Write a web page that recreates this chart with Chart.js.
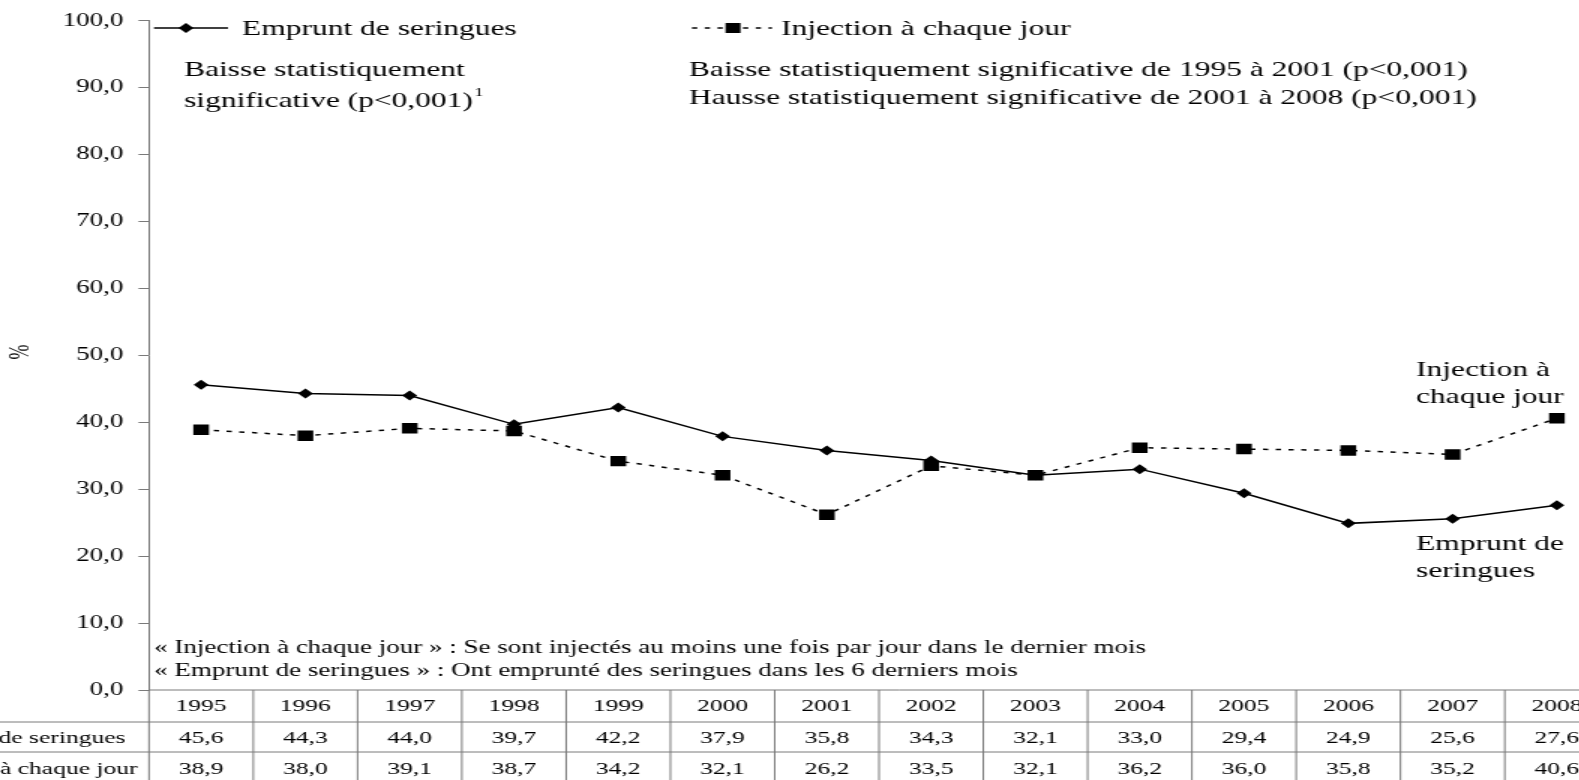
<!DOCTYPE html>
<html>
<head>
<meta charset="utf-8">
<script src="https://cdn.jsdelivr.net/npm/chart.js@4"></script>
<style>
  html, body { margin: 0; padding: 0; background: #fff; overflow: hidden; width: 1579px; height: 780px; }
  #wrap { position: absolute; left: -240px; top: 0; transform: scaleX(1.5); transform-origin: 0 0; }
</style>
</head>
<body>
<div id="wrap"><canvas id="chart" width="1260" height="800"></canvas></div>
<script>
const years = ['1995', '1996', '1997', '1998', '1999', '2000', '2001', '2002', '2003', '2004', '2005', '2006', '2007', '2008']
const emprunt = [45.6, 44.3, 44.0, 39.7, 42.2, 37.9, 35.8, 34.3, 32.1, 33.0, 29.4, 24.9, 25.6, 27.6]
const injection = [38.9, 38.0, 39.1, 38.7, 34.2, 32.1, 26.2, 33.5, 32.1, 36.2, 36.0, 35.8, 35.2, 40.6]
const seriesNames = ['Emprunt de seringues', 'Injection à chaque jour']

// page coords -> canvas coords (canvas is shifted left and stretched 1.5x)
const S = 1.5, SHIFT = 240
const px = x => (x + SHIFT) / S
const serif = '"Liberation Serif", "Times New Roman", serif'
const fmt = v => v.toFixed(1).replace('.', ',')

const tablePlugin = {
    id: 'tableAndNotes',
    afterDraw(chart) {
        const ctx = chart.ctx
        const xs = chart.scales.x
        const area = chart.chartArea
        const step = xs.getPixelForValue(1) - xs.getPixelForValue(0)
        const rows = [690, 722, 752, 782]

        ctx.save()
        ctx.strokeStyle = '#7a7a7a'
        ctx.lineWidth = 1
        ctx.beginPath()
        rows.forEach((r, i) => {
            ctx.moveTo(i === 0 ? area.left : 0, r)
            ctx.lineTo(chart.width, r)
        })
        for (let i = 0; i <= years.length; i++) {
            const x = xs.getPixelForValue(0) - step / 2 + i * step
            ctx.moveTo(x, rows[0])
            ctx.lineTo(x, 800)
        }
        ctx.stroke()

        ctx.fillStyle = '#000'
        ctx.font = '17px ' + serif
        ctx.textAlign = 'center'
        ctx.textBaseline = 'middle'
        years.forEach((y, i) => {
            const x = xs.getPixelForValue(i)
            ctx.fillText(y, x, 707)
            ctx.fillText(fmt(emprunt[i]), x, 739)
            ctx.fillText(fmt(injection[i]), x, 770)
        })
        ctx.textAlign = 'left'
        ctx.fillText(seriesNames[0], px(-97), 739)
        ctx.fillText(seriesNames[1], px(-97), 770)

        // legend
        ctx.lineWidth = 1.5
        ctx.strokeStyle = '#000'
        ctx.beginPath()
        ctx.moveTo(px(154), 28)
        ctx.lineTo(px(228), 28)
        ctx.stroke()
        ctx.beginPath()
        ctx.moveTo(px(186) - 5, 28); ctx.lineTo(px(186), 23); ctx.lineTo(px(186) + 5, 28); ctx.lineTo(px(186), 33)
        ctx.closePath(); ctx.fill()
        ctx.setLineDash([3.5, 5])
        ctx.beginPath()
        ctx.moveTo(px(692), 28)
        ctx.lineTo(px(772), 28)
        ctx.stroke()
        ctx.setLineDash([])
        ctx.fillRect(px(733) - 5, 23, 10, 10)

        ctx.font = '21px ' + serif
        ctx.fillText(seriesNames[0], px(242), 29)
        ctx.fillText(seriesNames[1], px(781), 29)

        // annotations
        ctx.fillText('Baisse statistiquement', px(184), 70)
        ctx.fillText('significative (p<0,001)', px(184), 101)
        const w = ctx.measureText('significative (p<0,001)').width
        ctx.font = '12px ' + serif
        ctx.fillText('1', px(184) + w + 1, 93)
        ctx.font = '21px ' + serif
        ctx.fillText('Baisse statistiquement significative de 1995 à 2001 (p<0,001)', px(689), 70)
        ctx.fillText('Hausse statistiquement significative de 2001 à 2008 (p<0,001)', px(689), 98)
        ctx.fillText('Injection à', px(1416), 370)
        ctx.fillText('chaque jour', px(1416), 397)
        ctx.fillText('Emprunt de', px(1416), 544)
        ctx.fillText('seringues', px(1416), 571)

        ctx.font = '18px ' + serif
        ctx.fillText('« Injection à chaque jour » : Se sont injectés au moins une fois par jour dans le dernier mois', px(154), 648)
        ctx.fillText('« Emprunt de seringues » : Ont emprunté des seringues dans les 6 derniers mois', px(154), 671)

        ctx.translate(px(22), 352)
        ctx.rotate(-Math.PI / 2)
        ctx.textAlign = 'center'
        ctx.font = '18px ' + serif
        ctx.fillText('%', 0, 0)
        ctx.restore()
    }
}

new Chart(document.getElementById('chart'), {
    type: 'line',
    data: {
        labels: years,
        datasets: [{
            label: seriesNames[0],
            data: emprunt,
            borderColor: '#000',
            backgroundColor: '#000',
            borderWidth: 1.5,
            pointStyle: 'rectRot',
            pointRadius: 5,
            pointBorderWidth: 0
        }, {
            label: seriesNames[1],
            data: injection,
            borderColor: '#000',
            backgroundColor: '#000',
            borderWidth: 1.5,
            borderDash: [3.5, 5],
            pointStyle: 'rect',
            pointRadius: 7.4,
            pointBorderWidth: 0
        }]
    },
    options: {
        responsive: false,
        animation: false,
        layout: { padding: { left: 0, top: 18, right: 27.3, bottom: 110 } },
        plugins: {
            legend: { display: false },
            tooltip: { enabled: false }
        },
        scales: {
            x: {
                display: false,
                offset: true
            },
            y: {
                min: 0,
                max: 100,
                afterFit: (scale) => { scale.width = px(149) },
                ticks: {
                    stepSize: 10,
                    padding: 10,
                    color: '#000',
                    font: { family: serif, size: 18 },
                    callback: v => fmt(v)
                },
                grid: { drawOnChartArea: false, drawTicks: true, tickLength: 7, color: '#7a7a7a' },
                border: { color: '#7a7a7a', width: 1 }
            }
        }
    },
    plugins: [tablePlugin]
})
</script>
</body>
</html>
